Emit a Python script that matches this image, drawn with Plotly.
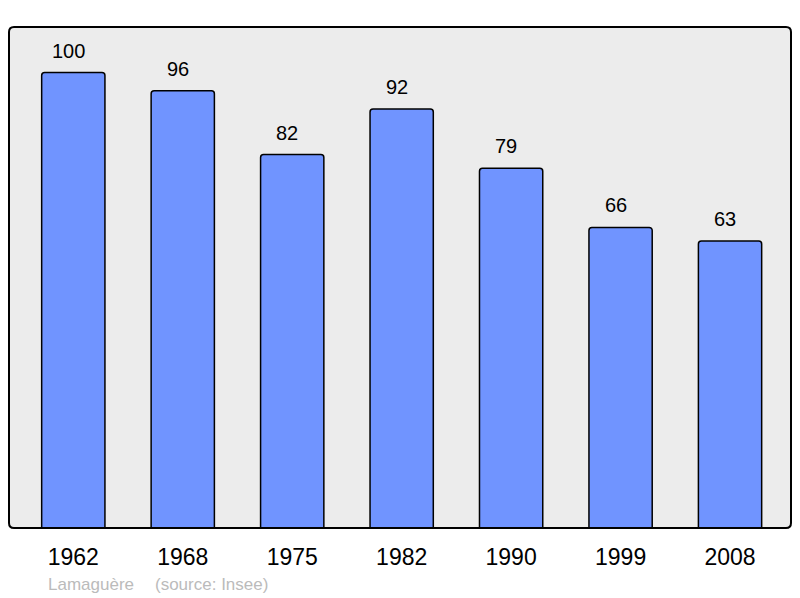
import plotly.graph_objects as go

# Population de Lamaguère (source: Insee)
annees = ["1962", "1968", "1975", "1982", "1990", "1999", "2008"]
population = [100, 96, 82, 92, 79, 66, 63]
commune = "Lamaguère"
source = "(source: Insee)"

# la page ajoute une marge de 8px autour du graphique
W, H = 792, 590
L, R, T, B = 1, 9, 19, 70
pw, ph = W - L - R, H - T - B


def rounded_rect(r):
    """Chemin d'un rectangle arrondi en coordonnées paper"""
    rx, ry = r / pw, r / ph
    return (f"M {rx},0 L {1 - rx},0 Q 1,0 1,{ry} L 1,{1 - ry} Q 1,1 {1 - rx},1 "
            f"L {rx},1 Q 0,1 0,{1 - ry} L 0,{ry} Q 0,0 {rx},0 Z")


fig = go.Figure()
fig.add_trace(go.Bar(
    x=annees,
    y=population,
    marker=dict(color="#7094ff", line=dict(color="black", width=1.5), cornerradius=3),
    width=0.578,
    hoverinfo="x+y",
))

for i, p in enumerate(population):
    fig.add_annotation(x=i, y=p, xref="x", yref="y", text=str(p), showarrow=False,
                       yanchor="bottom", xshift=-5, yshift=9, font=dict(size=20, color="black"))

y_src = -(576 - (H - B)) / ph
fig.add_annotation(xref="paper", yref="paper", x=(38 - L) / pw, y=y_src,
                   xanchor="left", yanchor="middle", text=commune, showarrow=False,
                   font=dict(size=17, color="#bbbbbb"))
fig.add_annotation(xref="paper", yref="paper", x=(145 - L) / pw, y=y_src,
                   xanchor="left", yanchor="middle", text=source, showarrow=False,
                   font=dict(size=17, color="#bbbbbb"))

fig.add_shape(type="path", xref="paper", yref="paper", path=rounded_rect(5),
              fillcolor="#ececec", line=dict(width=0), layer="below")
fig.add_shape(type="path", xref="paper", yref="paper", path=rounded_rect(5),
              line=dict(color="black", width=2), layer="above")

fig.update_layout(
    width=W, height=H,
    margin=dict(l=L, r=R, t=T, b=B),
    paper_bgcolor="white",
    plot_bgcolor="rgba(0,0,0,0)",
    font=dict(family="Liberation Sans, Arial, sans-serif", color="black"),
    showlegend=False,
    xaxis=dict(type="category", range=[-0.5875, 6.557], showgrid=False, zeroline=False,
               showline=False, ticks="outside", ticklen=8, tickcolor="rgba(0,0,0,0)",
               tickfont=dict(size=23, color="black")),
    yaxis=dict(range=[0, 110], visible=False, showgrid=False, zeroline=False),
)

fig.write_html("out.html")
